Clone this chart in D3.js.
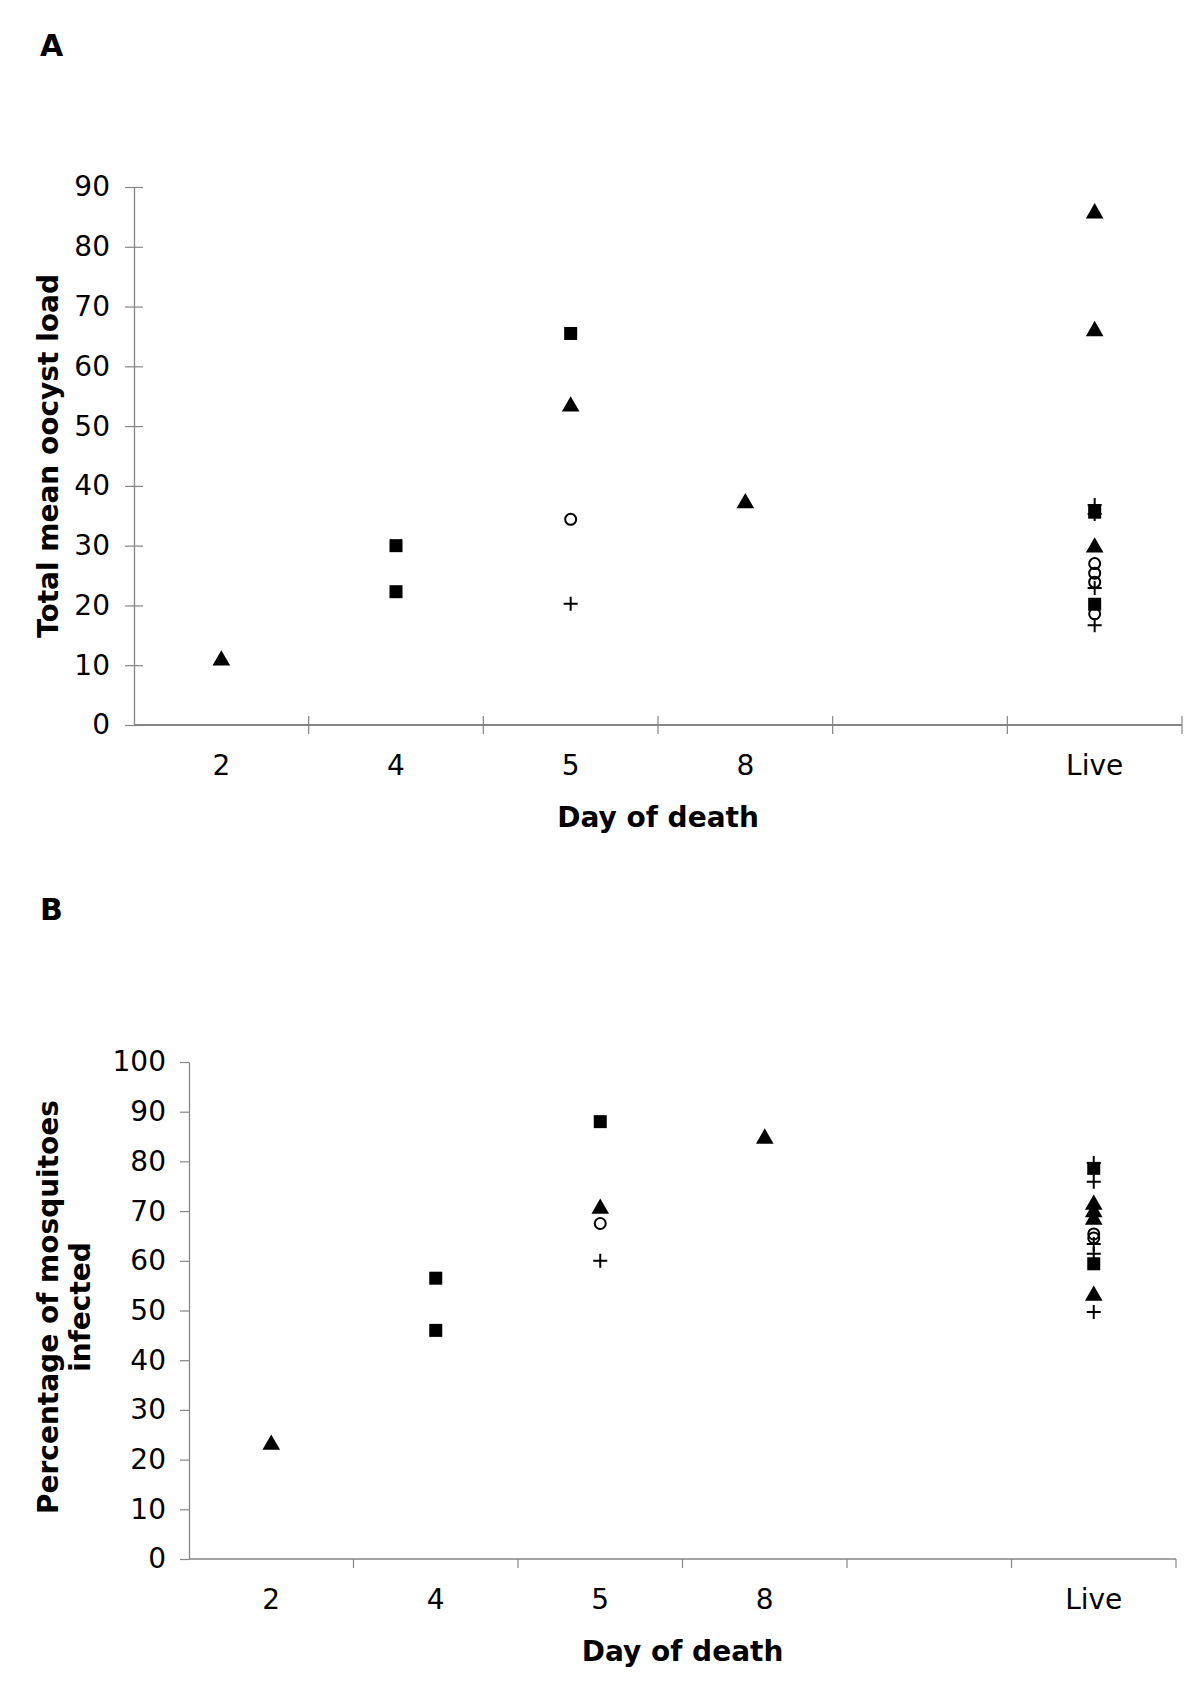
<!DOCTYPE html>
<html>
<head>
<meta charset="utf-8">
<script src="https://cdn.jsdelivr.net/npm/d3@7"></script>
<style>
  html, body { margin: 0; padding: 0; background: #fff; }
  svg { display: block; }
  text { font-family: "DejaVu Sans", Verdana, sans-serif; fill: #000; }
</style>
</head>
<body>
<svg id="chart" width="1200" height="1696"></svg>
<script>
// ---------- DATA ----------
const categories = ["2", "4", "5", "8", "", "Live"];

// Panel A: total mean oocyst load  ([day, value])
const aSquares   = [["4", 30.0], ["4", 22.3], ["5", 65.5], ["Live", 35.6], ["Live", 20.2]];
const aTriangles = [["2", 10.8], ["5", 53.3], ["8", 37.1], ["Live", 85.6], ["Live", 65.9], ["Live", 29.7]];
const aCircles   = [["5", 34.4], ["Live", 27.0], ["Live", 25.4], ["Live", 23.9], ["Live", 18.6]];
const aPluses    = [["5", 20.3], ["Live", 36.8], ["Live", 35.3], ["Live", 22.9], ["Live", 16.7]];
const aTicks = [0, 10, 20, 30, 40, 50, 60, 70, 80, 90];

// Panel B: percentage of mosquitoes infected
const bSquares   = [["4", 56.5], ["4", 46.0], ["5", 88.0], ["Live", 78.6], ["Live", 59.4]];
const bTriangles = [["2", 23.0], ["5", 70.5], ["8", 84.6], ["Live", 71.3], ["Live", 69.8], ["Live", 68.3], ["Live", 53.0]];
const bCircles   = [["5", 67.5], ["Live", 65.4], ["Live", 64.6]];
const bPluses    = [["5", 60.0], ["Live", 79.7], ["Live", 75.9], ["Live", 63.4], ["Live", 61.4], ["Live", 49.7]];
const bTicks = [0, 10, 20, 30, 40, 50, 60, 70, 80, 90, 100];

// ---------- DRAWING ----------
const svg = d3.select("#chart");
const AXIS = "#858585";

const plusSymbol = {
  draw(ctx, size) {
    const r = Math.sqrt(size) / 2;
    ctx.moveTo(-r, 0); ctx.lineTo(r, 0);
    ctx.moveTo(0, -r); ctx.lineTo(0, r);
  }
};

function drawPanel(cfg) {
  const g = svg.append("g");
  const x = d3.scaleBand().domain(categories).range([cfg.x0, cfg.x1]).padding(0);
  const y = d3.scaleLinear().domain([0, cfg.ymax]).range([cfg.y0, cfg.y1]);

  // panel letter
  g.append("text").attr("x", cfg.letterX).attr("y", cfg.letterY)
    .attr("font-size", 30).attr("font-weight", "bold").text(cfg.letter);

  // y axis
  const yAxis = d3.axisLeft(y).tickValues(cfg.ticks).tickFormat(d3.format("d"))
    .tickSizeInner(cfg.yTickIn + cfg.yTickOut).tickSizeOuter(0).tickPadding(cfg.yPad);
  const ya = g.append("g").attr("transform", `translate(${cfg.x0},0)`).call(yAxis);
  ya.select(".domain").attr("stroke", AXIS).attr("stroke-width", 1.3);
  ya.selectAll(".tick line").attr("stroke", AXIS).attr("stroke-width", 1.2)
    .attr("x1", cfg.yTickIn).attr("x2", -cfg.yTickOut);
  ya.selectAll(".tick text").attr("font-size", 28).attr("fill", "#000")
    .attr("font-family", '"DejaVu Sans", Verdana, sans-serif');

  // x axis: labels at band centers, tick marks at band boundaries
  const xAxis = d3.axisBottom(x).tickSize(0).tickPadding(cfg.xPad);
  const xa = g.append("g").attr("transform", `translate(0,${cfg.y0})`).call(xAxis);
  xa.select(".domain").remove();
  xa.selectAll(".tick text").attr("font-size", 28).attr("fill", "#000")
    .attr("font-family", '"DejaVu Sans", Verdana, sans-serif');
  g.append("line").attr("x1", cfg.x0).attr("x2", cfg.x1).attr("y1", cfg.y0).attr("y2", cfg.y0)
    .attr("stroke", AXIS).attr("stroke-width", cfg.xAxisW);
  const bounds = categories.map(c => x(c)).concat([cfg.x1]);
  g.selectAll("line.xt").data(bounds.slice(1)).join("line").attr("class", "xt")
    .attr("x1", d => d).attr("x2", d => d)
    .attr("y1", cfg.y0 - cfg.xTickIn).attr("y2", cfg.y0 + cfg.xTickOut)
    .attr("stroke", AXIS).attr("stroke-width", 1.2);

  // axis titles
  g.append("text").attr("x", (cfg.x0 + cfg.x1) / 2).attr("y", cfg.xTitleY)
    .attr("text-anchor", "middle").attr("font-size", 28).attr("font-weight", "bold")
    .text("Day of death");
  const yt = g.append("text").attr("transform", `translate(${cfg.yTitleX},${cfg.yTitleY}) rotate(-90)`)
    .attr("text-anchor", "middle").attr("font-size", 28).attr("font-weight", "bold");
  cfg.yTitle.forEach((line, i) => {
    yt.append("tspan").attr("x", 0).attr("dy", i === 0 ? 0 : 32).text(line);
  });

  const cx = d => x(d[0]) + x.bandwidth() / 2;
  const sq = d3.symbol().type(d3.symbolSquare).size(169);
  const tri = d3.symbol().type(d3.symbolTriangle).size(135);
  const circ = d3.symbol().type(d3.symbolCircle).size(95);
  const plus = d3.symbol().type(plusSymbol).size(196);

  g.selectAll("path.sq").data(cfg.squares).join("path").attr("class", "sq")
    .attr("d", sq).attr("transform", d => `translate(${cx(d)},${y(d[1])})`).attr("fill", "#000");
  g.selectAll("path.tri").data(cfg.triangles).join("path").attr("class", "tri")
    .attr("d", tri).attr("transform", d => `translate(${cx(d)},${y(d[1])})`).attr("fill", "#000");
  g.selectAll("path.circ").data(cfg.circles).join("path").attr("class", "circ")
    .attr("d", circ).attr("transform", d => `translate(${cx(d)},${y(d[1])})`)
    .attr("fill", "none").attr("stroke", "#000").attr("stroke-width", 2);
  g.selectAll("path.plus").data(cfg.pluses).join("path").attr("class", "plus")
    .attr("d", plus).attr("transform", d => `translate(${cx(d)},${y(d[1])})`)
    .attr("fill", "none").attr("stroke", "#000").attr("stroke-width", 2);
}

drawPanel({
  letter: "A", letterX: 40, letterY: 56,
  x0: 134, x1: 1182, y0: 725, y1: 187, ymax: 90, ticks: aTicks,
  yTickIn: 9, yTickOut: 9, yPad: 6, xTickIn: 9, xTickOut: 9, xPad: 30, xAxisW: 2.2,
  xTitleY: 827, yTitleX: 58, yTitleY: 456, yTitle: ["Total mean oocyst load"],
  squares: aSquares, triangles: aTriangles, circles: aCircles, pluses: aPluses
});

drawPanel({
  letter: "B", letterX: 40, letterY: 920,
  x0: 189, x1: 1176, y0: 1559, y1: 1062, ymax: 100, ticks: bTicks,
  yTickIn: 0, yTickOut: 9, yPad: 14, xTickIn: 0, xTickOut: 9, xPad: 30, xAxisW: 1.3,
  xTitleY: 1661, yTitleX: 58, yTitleY: 1307, yTitle: ["Percentage of mosquitoes", "infected"],
  squares: bSquares, triangles: bTriangles, circles: bCircles, pluses: bPluses
});
</script>
</body>
</html>
